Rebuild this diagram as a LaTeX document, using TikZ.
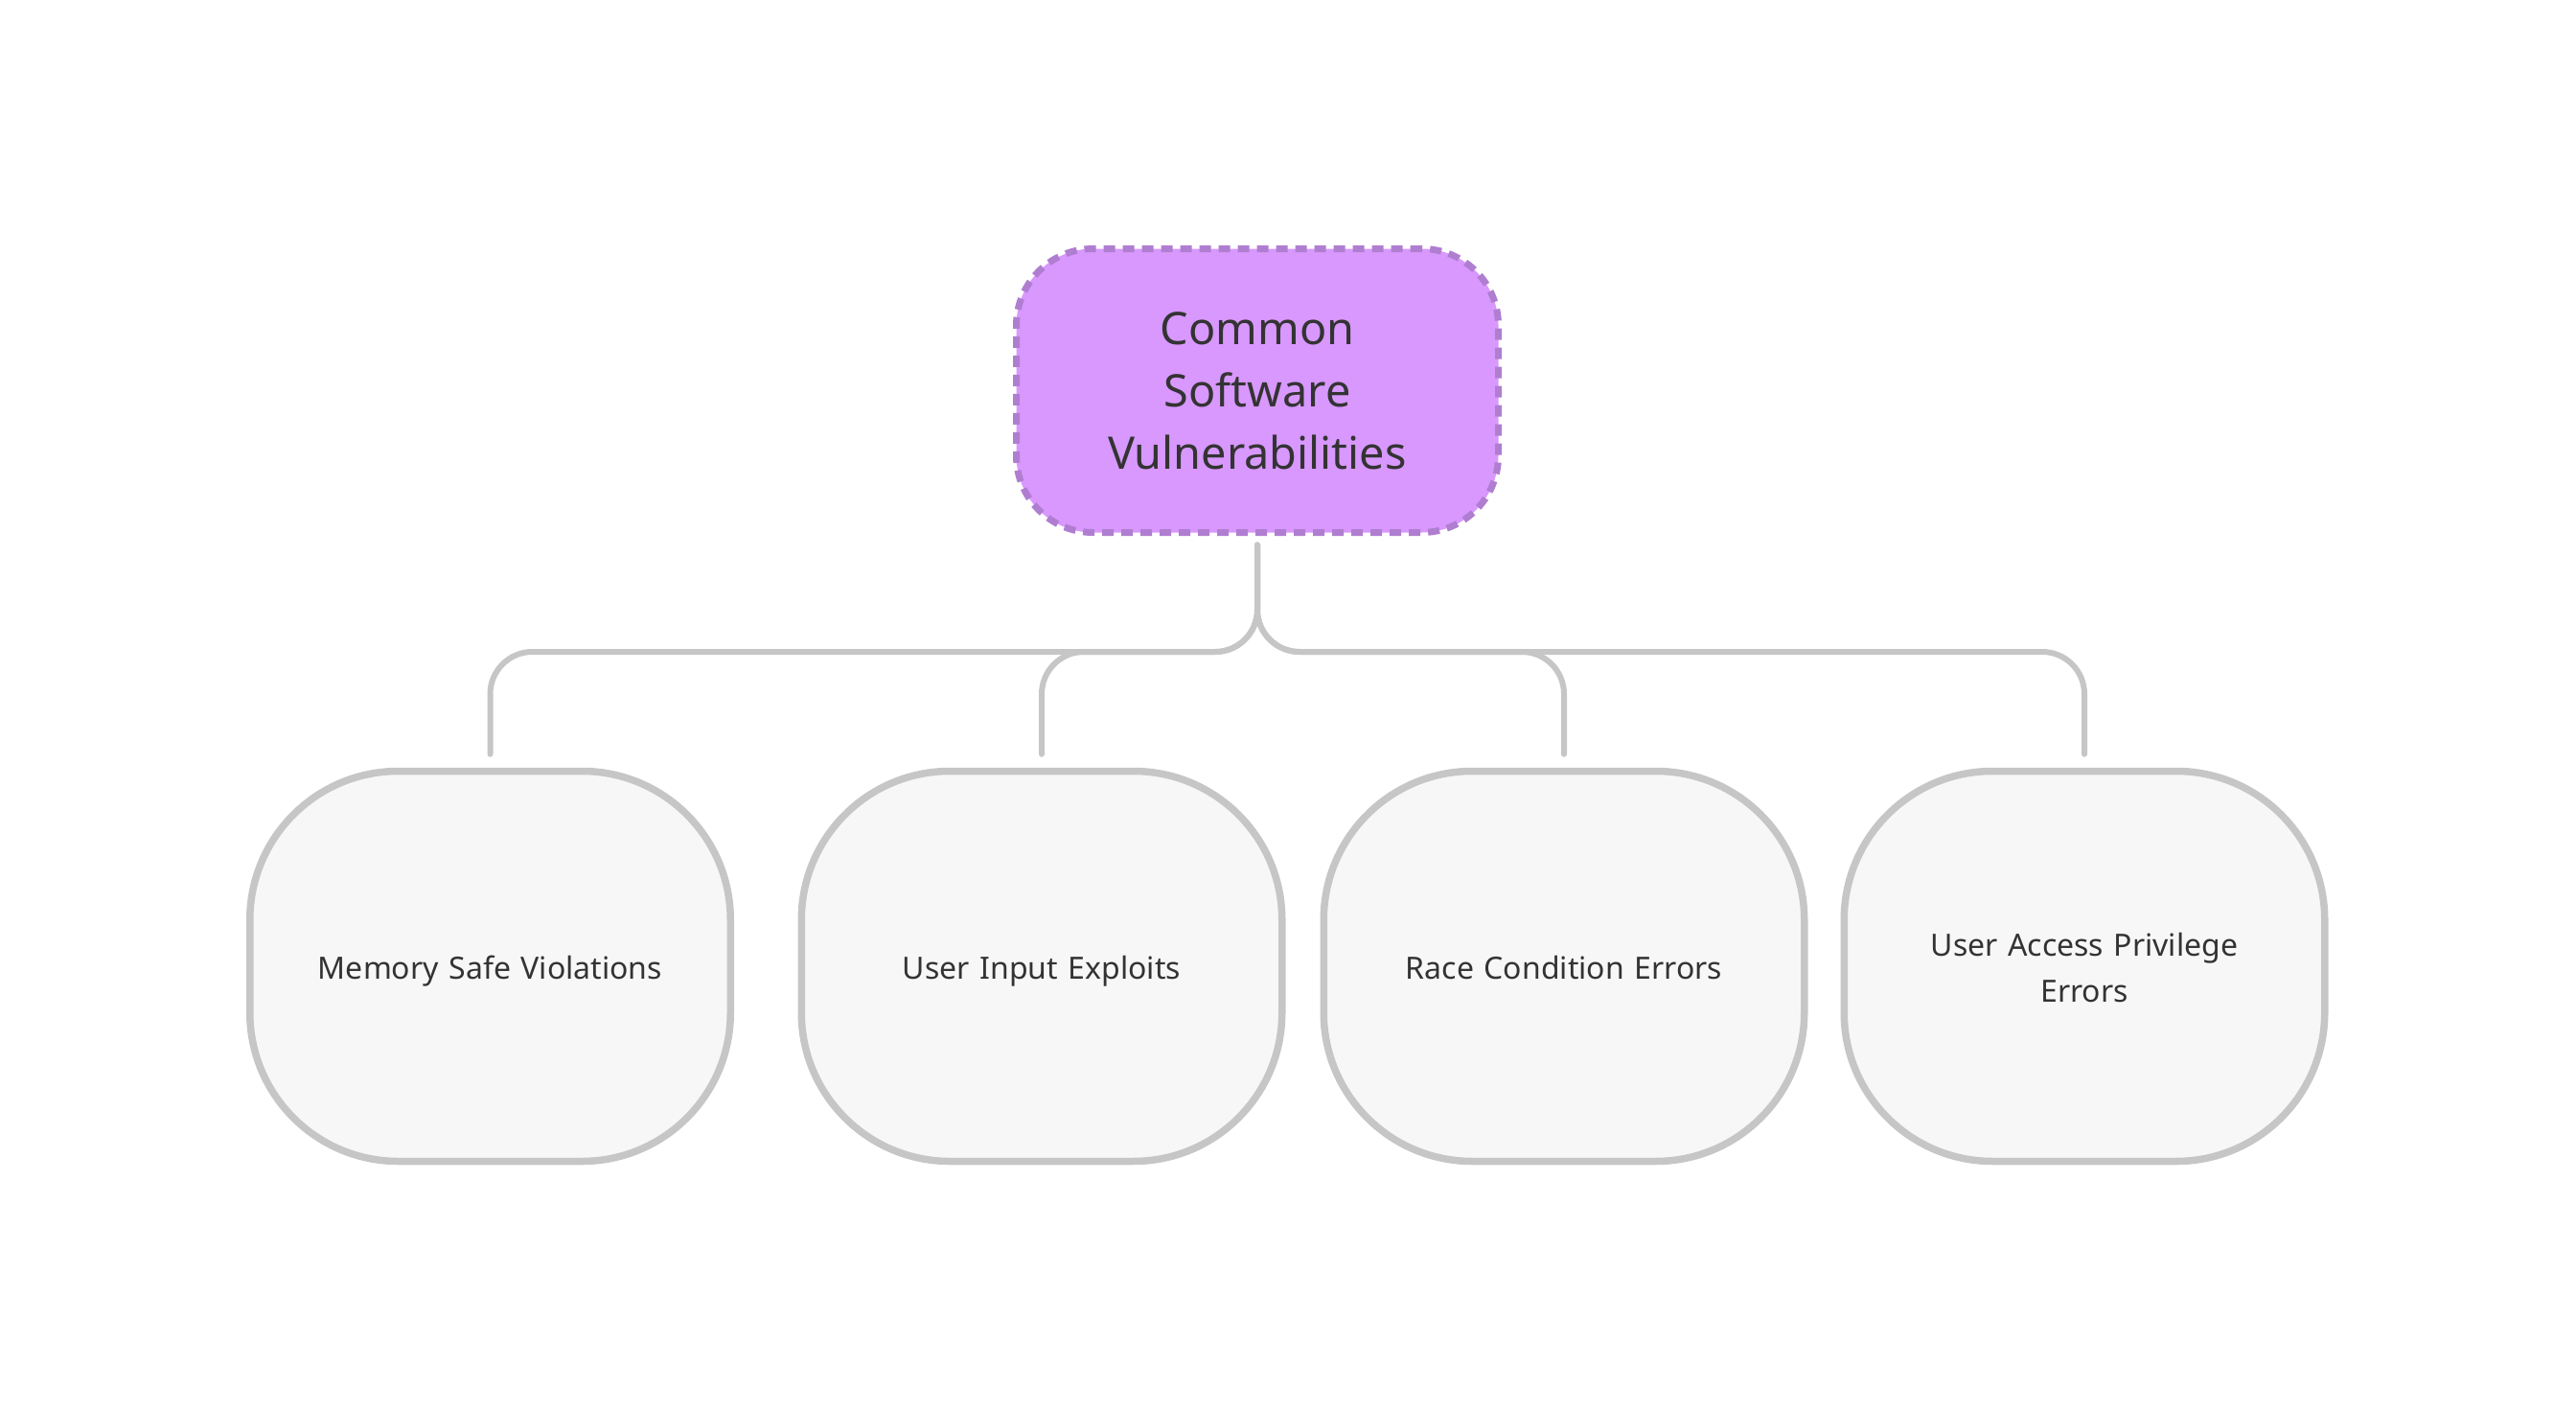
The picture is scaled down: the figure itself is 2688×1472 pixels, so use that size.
\documentclass[tikz,border=0pt]{standalone}
\usepackage{fontspec}
\setmainfont{Noto Sans}
\usetikzlibrary{calc}
\definecolor{rootfill}{HTML}{D898FE}
\definecolor{rootline}{HTML}{B07ED0}
\definecolor{boxfill}{HTML}{F7F7F7}
\definecolor{boxline}{HTML}{C6C6C6}
\definecolor{txt}{HTML}{333333}
\tikzset{
  rootbox/.style={draw=rootline, fill=rootfill, line width=3.5pt,
    dash pattern=on 6pt off 4pt, rounded corners=40pt,
    minimum width=251.5pt, minimum height=148pt, outer sep=0pt,
    align=center, text=txt, font=\fontsize{23.4}{32.5}\selectfont},
  childbox/.style={draw=boxline, fill=boxfill, line width=3.75pt,
    rounded corners=77.5pt, minimum width=250.75pt, minimum height=203.5pt,
    outer sep=0pt, align=center, text=txt, text width=220pt,
    font=\fontsize{16}{24}\selectfont,
    execute at begin node={\rule{0pt}{18.5pt}},
    execute at end node={\rule[-5.5pt]{0pt}{5.5pt}}},
  link/.style={draw=boxline, line width=3pt, line cap=round, rounded corners=22pt}
}
\begin{document}
\begin{tikzpicture}[x=0.5pt,y=-0.5pt]
\useasboundingbox (0,0) rectangle (2688,1472);
\node[rootbox] (root) at (1312,407.5) {Common\\Software\\Vulnerabilities};
\node[childbox] (c1) at (511.5,1008) {Memory Safe Violations};
\node[childbox] (c2) at (1087,1008) {User Input Exploits};
\node[childbox] (c3) at (1632,1008) {Race Condition Errors};
\node[childbox] (c4) at (2175,1008) {User Access Privilege\\Errors};
\coordinate (bus) at (0,680);
\coordinate (s) at ($(root.south)+(0,13)$);
\foreach \c in {c1,c2,c3,c4}{
  \draw[link] (s) -- (s |- bus) -- (\c.north |- bus) -- ($(\c.north)+(0,-17.75)$);
}
\end{tikzpicture}
\end{document}
